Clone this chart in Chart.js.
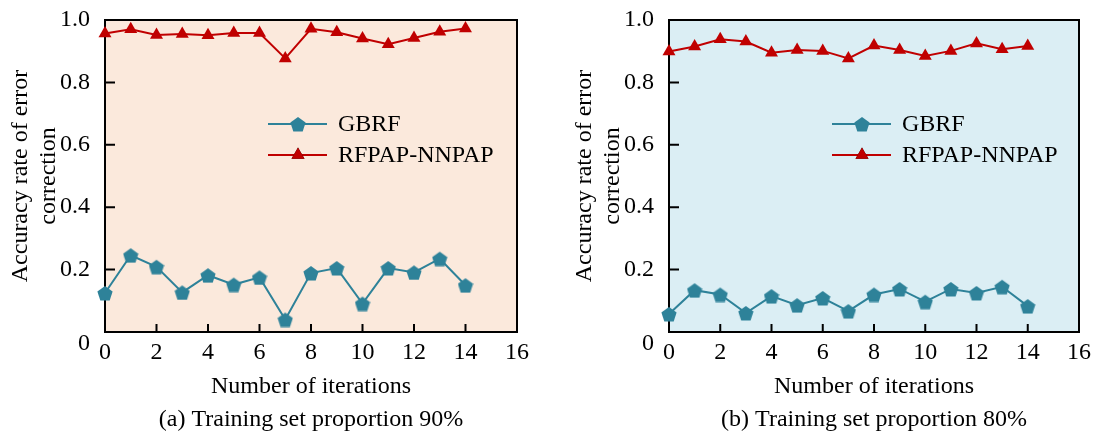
<!DOCTYPE html>
<html>
<head>
<meta charset="utf-8">
<script src="https://cdn.jsdelivr.net/npm/chart.js@4.4.0/dist/chart.umd.min.js"></script>
<style>
    body { margin: 0; background: #ffffff; overflow: hidden; }
    .panel { position: absolute; top: 0; }
</style>
</head>
<body>
<div class="panel" style="left: 0px;"><canvas id="chartA" width="540" height="434"></canvas></div>
<div class="panel" style="left: 564px;"><canvas id="chartB" width="533" height="434"></canvas></div>
<script>
// iterations (x axis)
const iterations = [0, 1, 2, 3, 4, 5, 6, 7, 8, 9, 10, 11, 12, 13, 14];

// (a) training set proportion 90%
const gbrfA = [0.125, 0.246, 0.209, 0.127, 0.182, 0.152, 0.175, 0.040, 0.189, 0.205, 0.091, 0.205, 0.191, 0.235, 0.150];
const rfpapA = [0.957, 0.970, 0.952, 0.955, 0.951, 0.958, 0.958, 0.877, 0.972, 0.961, 0.941, 0.922, 0.942, 0.962, 0.973];

// (b) training set proportion 80%
const gbrfB = [0.058, 0.134, 0.120, 0.061, 0.115, 0.086, 0.109, 0.067, 0.120, 0.138, 0.097, 0.138, 0.125, 0.145, 0.083];
const rfpapB = [0.899, 0.915, 0.938, 0.931, 0.895, 0.904, 0.901, 0.877, 0.918, 0.904, 0.885, 0.901, 0.925, 0.906, 0.917];

// tick values
const xTicks = [0, 2, 4, 6, 8, 10, 12, 14, 16];
const yTicks = [0, 0.2, 0.4, 0.6, 0.8, 1.0];

const FONT = "'Liberation Serif', 'Times New Roman', serif";
const TEAL = '#2e8299';
const RED = '#c00000';

// pentagon marker (no built-in pentagon in Chart.js)
function makePentagon(size, color) {
    const c = document.createElement('canvas');
    c.width = size;
    c.height = size;
    const g = c.getContext('2d');
    const r = size / 2;
    g.fillStyle = color;
    g.beginPath();
    for (let i = 0; i < 5; i++) {
        const ang = -Math.PI / 2 + i * 2 * Math.PI / 5;
        const px = r + r * Math.cos(ang);
        const py = r + 1 + r * Math.sin(ang);
        if (i === 0) g.moveTo(px, py); else g.lineTo(px, py);
    }
    g.closePath();
    g.fill();
    return c;
}
const pentagon = makePentagon(16, TEAL);

function toPoints(values) {
    return values.map((v, i) => ({ x: iterations[i], y: v }));
}

// background, frame and inward tick marks
const framePlugin = {
    id: 'frame',
    beforeDraw(chart, args, opts) {
        const { ctx, chartArea: a } = chart;
        ctx.save();
        ctx.fillStyle = opts.fill;
        ctx.fillRect(a.left, a.top, a.width, a.height);
        ctx.restore();
    },
    beforeDatasetsDraw(chart) {
        const { ctx, chartArea: a, scales } = chart;
        ctx.save();
        ctx.strokeStyle = '#000000';
        ctx.lineWidth = 2;
        ctx.strokeRect(a.left, a.top, a.width, a.height);
        ctx.beginPath();
        yTicks.slice(1, -1).forEach(v => {
            const y = scales.y.getPixelForValue(v);
            ctx.moveTo(a.left, y);
            ctx.lineTo(a.left + 10, y);
        });
        xTicks.slice(1, -1).forEach(v => {
            const x = scales.x.getPixelForValue(v);
            ctx.moveTo(x, a.bottom);
            ctx.lineTo(x, a.bottom - 8);
        });
        ctx.stroke();
        ctx.restore();
    }
};

// legend drawn inside the plot area
const legendPlugin = {
    id: 'innerLegend',
    afterDraw(chart) {
        const { ctx, chartArea: a } = chart;
        const x0 = a.left + 163;
        const rows = [a.top + 104, a.top + 135];
        ctx.save();
        chart.data.datasets.forEach((ds, i) => {
            const y = rows[i];
            ctx.strokeStyle = ds.borderColor;
            ctx.lineWidth = 2;
            ctx.beginPath();
            ctx.moveTo(x0, y);
            ctx.lineTo(x0 + 59, y);
            ctx.stroke();
            Chart.helpers.drawPoint(ctx, {
                pointStyle: ds.pointStyle,
                radius: ds.pointRadius,
                rotation: 0,
                borderWidth: 0
            }, x0 + 30, y);
            ctx.fillStyle = ds.backgroundColor;
            ctx.fill();
            ctx.fillStyle = '#000000';
            ctx.font = '24px ' + FONT;
            ctx.textAlign = 'left';
            ctx.textBaseline = 'middle';
            ctx.fillText(ds.label, x0 + 70, y + 1);
        });
        ctx.restore();
    }
};

function buildChart(id, gbrf, rfpap, caption, fill, padRight) {
    const ctx = document.getElementById(id);
    new Chart(ctx, {
        type: 'line',
        data: {
            datasets: [
                {
                    label: 'GBRF',
                    data: toPoints(gbrf),
                    borderColor: TEAL,
                    backgroundColor: TEAL,
                    borderWidth: 2,
                    pointStyle: pentagon,
                    pointRadius: 8,
                    tension: 0
                },
                {
                    label: 'RFPAP-NNPAP',
                    data: toPoints(rfpap),
                    borderColor: RED,
                    backgroundColor: RED,
                    borderWidth: 2,
                    pointStyle: 'triangle',
                    pointRadius: 7.5,
                    pointBorderWidth: 0,
                    tension: 0
                }
            ]
        },
        options: {
            responsive: false,
            animation: false,
            devicePixelRatio: 1,
            clip: false,
            layout: { padding: { top: 20, right: padRight, bottom: 0, left: 0 } },
            plugins: {
                legend: { display: false },
                tooltip: { enabled: false },
                title: {
                    display: true,
                    position: 'bottom',
                    fullSize: false,
                    text: caption,
                    color: '#000000',
                    font: { family: FONT, size: 24, weight: 'normal', lineHeight: 1.0 },
                    padding: { top: 9, bottom: 2 }
                },
                frame: { fill: fill }
            },
            scales: {
                x: {
                    type: 'linear',
                    min: 0,
                    max: 16,
                    grid: { display: false, drawTicks: false },
                    border: { display: false },
                    afterBuildTicks: scale => { scale.ticks = xTicks.map(v => ({ value: v })); },
                    afterFit: scale => { scale.height = 67; },
                    ticks: {
                        color: '#000000',
                        padding: 6,
                        maxRotation: 0,
                        font: { family: FONT, size: 24 }
                    },
                    title: {
                        display: true,
                        text: 'Number of iterations',
                        color: '#000000',
                        font: { family: FONT, size: 24, lineHeight: 1.0 },
                        padding: { top: 4, bottom: 0 }
                    }
                },
                y: {
                    min: 0,
                    max: 1,
                    grid: { display: false, drawTicks: false },
                    border: { display: false },
                    afterBuildTicks: scale => { scale.ticks = yTicks.map(v => ({ value: v })); },
                    afterFit: scale => {
                        scale.width = 105;
                        scale.paddingTop = 0;
                        scale.paddingBottom = 0;
                    },
                    ticks: {
                        color: '#000000',
                        padding: 15,
                        font: { family: FONT, size: 24, lineHeight: 1.0 },
                        callback: v => (v === 0 ? ['', '0'] : v.toFixed(1))
                    },
                    title: {
                        display: true,
                        text: ['Accuracy rate of error', 'correction'],
                        color: '#000000',
                        font: { family: FONT, size: 24, lineHeight: '28px' },
                        padding: { top: 7, bottom: 0 }
                    }
                }
            }
        },
        plugins: [framePlugin, legendPlugin]
    });
}

buildChart('chartA', gbrfA, rfpapA, '(a) Training set proportion 90%', '#fbe9dc', 23);
buildChart('chartB', gbrfB, rfpapB, '(b) Training set proportion 80%', '#dbeef4', 17);
</script>
</body>
</html>
